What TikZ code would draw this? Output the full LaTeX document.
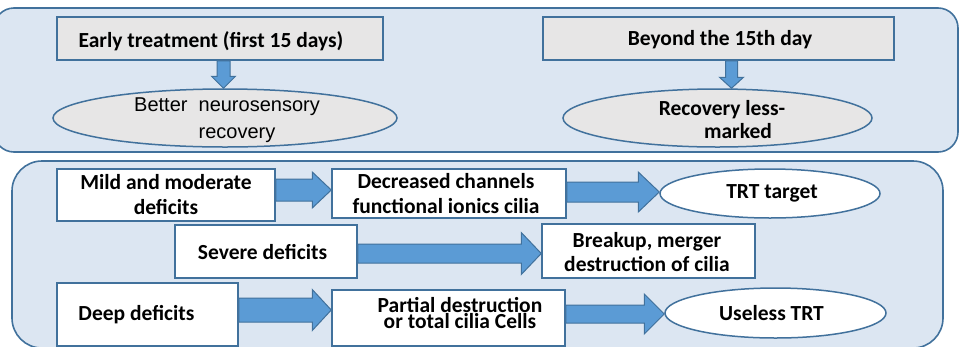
\documentclass[tikz,border=0pt]{standalone}
\usepackage{fontspec}
\setmainfont{Carlito}
\newfontfamily\arialf{Liberation Sans}
\usetikzlibrary{shapes.geometric,calc}
\definecolor{panelfill}{RGB}{220,230,242}
\definecolor{bordercol}{RGB}{65,113,156}
\definecolor{arrowfill}{RGB}{91,155,213}
\definecolor{grayfill}{RGB}{231,230,230}
\tikzset{
  panel/.style={draw=bordercol, fill=panelfill, line width=1.6pt},
  boxbase/.style={draw=bordercol, line width=1.5pt, inner sep=0pt, align=center,
    font=\fontsize{21.5}{25}\selectfont\bfseries},
  graybox/.style={boxbase, rectangle, fill=grayfill},
  whitebox/.style={boxbase, rectangle, fill=white},
  grayell/.style={boxbase, ellipse, fill=grayfill},
  whiteell/.style={boxbase, ellipse, fill=white},
  lbl/.style={inner sep=0pt, align=center, font=\fontsize{21.5}{25}\selectfont\bfseries},
  barrow/.style={draw=bordercol, fill=arrowfill, line width=1pt, line join=miter},
}
% horizontal block arrow: from, to, y centre, shaft half, head half, head length
\newcommand\blockarrowh[6]{%
  \draw[barrow] (#1 |- 0,{#3-#4}) -- ($(#2 |- 0,{#3-#4})+(-#6,0)$)
    -- ($(#2 |- 0,{#3-#5})+(-#6,0)$) -- (#2 |- 0,#3)
    -- ($(#2 |- 0,{#3+#5})+(-#6,0)$) -- ($(#2 |- 0,{#3+#4})+(-#6,0)$)
    -- (#1 |- 0,{#3+#4}) -- cycle;}
% vertical block arrow: from, to, x centre, shaft half, head half, head length
\newcommand\blockarrowv[6]{%
  \draw[barrow] ({#3-#4},0 |- #1) -- ($({#3-#4},0 |- #2)+(0,-#6)$)
    -- ($({#3-#5},0 |- #2)+(0,-#6)$) -- (#3,0 |- #2)
    -- ($({#3+#5},0 |- #2)+(0,-#6)$) -- ($({#3+#4},0 |- #2)+(0,-#6)$)
    -- ({#3+#4},0 |- #1) -- cycle;}
\begin{document}
\begin{tikzpicture}[x=1pt,y=-1pt]
\useasboundingbox (0,0) rectangle (973,346);
% panels
\draw[panel, rounded corners=20pt] (-6,8) rectangle (958,152);
\draw[panel, rounded corners=30pt] (12,161) rectangle (943,348);

% top panel
\node[graybox, minimum width=326pt, minimum height=43pt] (early) at (220,38.5) {};
\node[lbl] (earlyt) at (211,41) {Early treatment (first 15 days)};
\node[graybox, minimum width=351pt, minimum height=43pt] (beyond) at (718.5,38.5) {};
\node[lbl] (beyondt) at (720,40) {Beyond the 15th day};
\node[grayell, minimum width=344pt, minimum height=58pt] (better) at (225,118) {};
\node[inner sep=0pt, align=center, font=\arialf\fontsize{20}{27}\selectfont] (bettert) at (227,120)
  {Better\ \ neurosensory\\\hspace*{20pt}recovery};
\node[grayell, minimum width=309pt, minimum height=58pt] (less) at (717.5,118) {};
\node[lbl, font=\fontsize{21.5}{23}\selectfont\bfseries] (lesst) at (722,120)
  {Recovery less-\\\hspace*{32pt}marked};
\blockarrowv{early.south}{better.north}{223.5}{6.5}{12}{12}
\blockarrowv{beyond.south}{less.north}{731.5}{6}{12}{11}

% bottom panel
\node[whitebox, minimum width=218pt, minimum height=52pt] (mild) at (166,195) {Mild and moderate\\deficits};
\node[whitebox, minimum width=234pt, minimum height=49pt] (decr) at (449,193.5) {};
\node[lbl] (decrt) at (446,194) {Decreased channels\\functional ionics cilia};
\node[whiteell, minimum width=220pt, minimum height=49pt] (target) at (770,193.5) {};
\node[lbl] (targett) at (772,193.5) {TRT target};
\node[whitebox, minimum width=182pt, minimum height=53pt] (severe) at (266,251.5) {};
\node[lbl] (severet) at (262.5,252) {Severe deficits};
\node[whitebox, minimum width=213pt, minimum height=54pt] (breakup) at (648.5,251) {};
\node[lbl, font=\fontsize{21.5}{24}\selectfont\bfseries] (breakupt) at (647,252) {Breakup, merger\\destruction of cilia};
\node[whitebox, minimum width=181pt, minimum height=63pt] (deep) at (147.5,314.5) {};
\node[lbl] (deept) at (136.5,315) {Deep deficits};
\node[whitebox, minimum width=233pt, minimum height=56pt] (partial) at (448.5,318) {};
\node[lbl, font=\fontsize{21.5}{16}\selectfont\bfseries] (partialt) at (460,313) {Partial destruction\\or total cilia Cells};
\node[whiteell, minimum width=221pt, minimum height=50pt] (useless) at (775.5,313) {};
\node[lbl] (uselesst) at (771.5,313) {Useless TRT};

\blockarrowh{mild.east}{decr.west}{190}{11}{18}{19}
\blockarrowh{decr.east}{target.west}{192}{10}{20}{21}
\blockarrowh{severe.east}{breakup.west}{253.5}{9.5}{21}{20}
\blockarrowh{deep.east}{partial.west}{310}{12}{20.5}{19}
\blockarrowh{partial.east}{useless.west}{314}{9}{20}{20}
\end{tikzpicture}
\end{document}
